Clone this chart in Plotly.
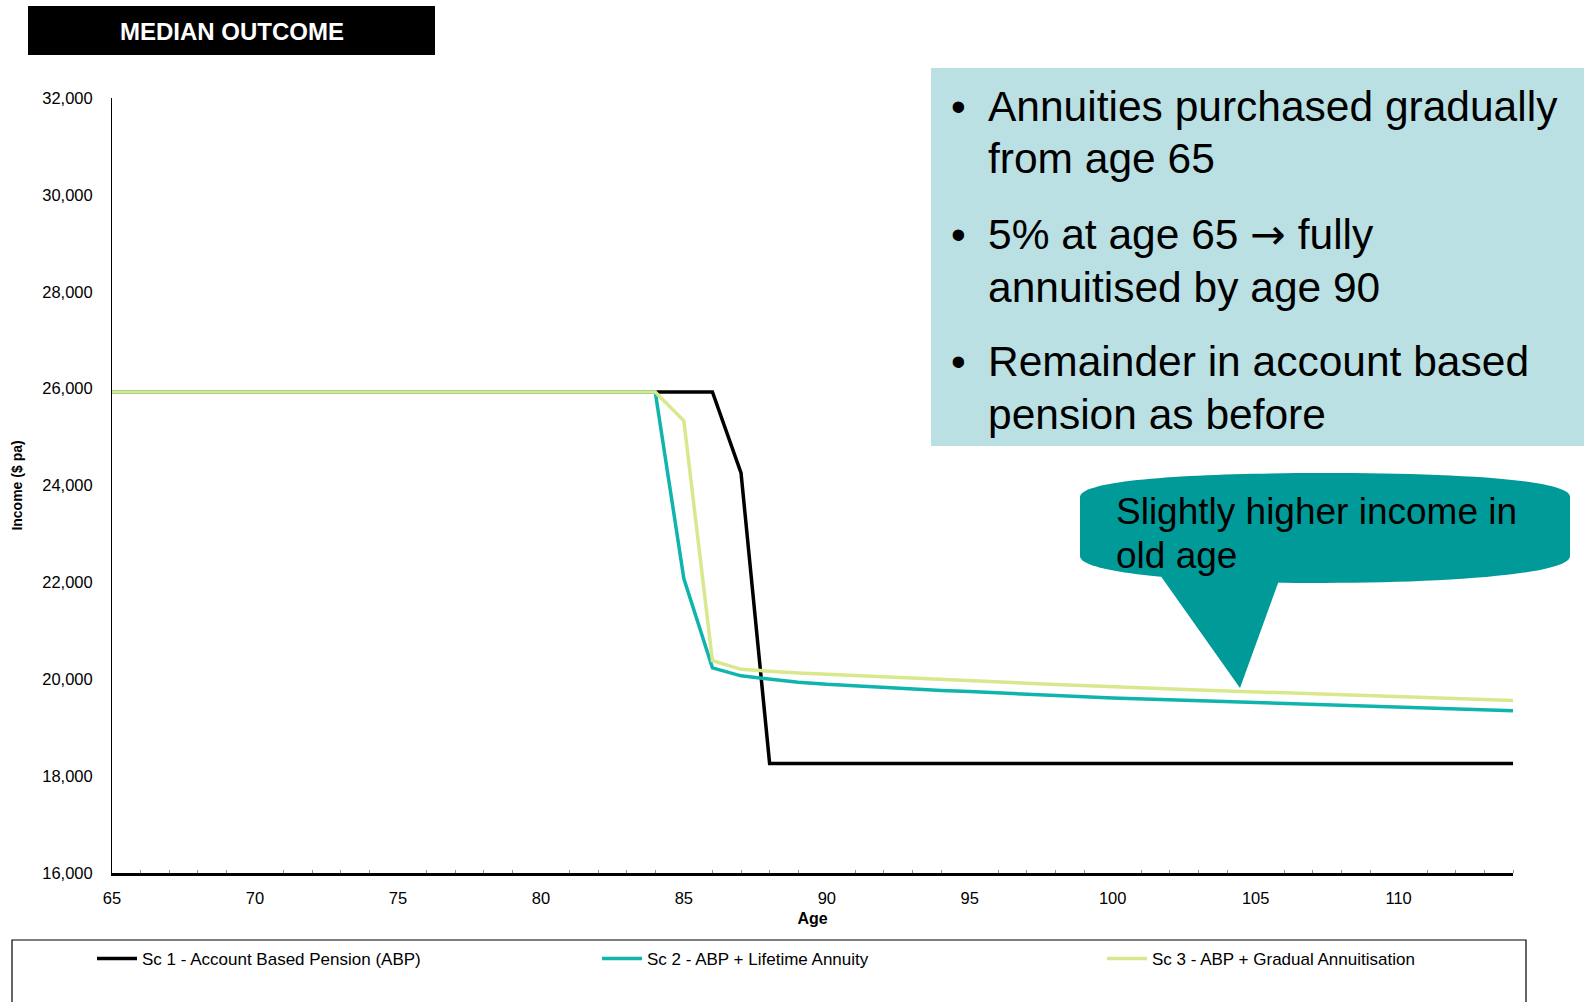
import plotly.graph_objects as go

# Median outcome - income by age for the three scenarios
ages = list(range(65, 115))

sc1_abp = [
    25930, 25930, 25930, 25930, 25930, 25930, 25930, 25930, 25930, 25930,   # 65-74
    25930, 25930, 25930, 25930, 25930, 25930, 25930, 25930, 25930, 25930,   # 75-84
    25930, 25930, 24260, 18260, 18260, 18260, 18260, 18260, 18260, 18260,   # 85-94
    18260, 18260, 18260, 18260, 18260, 18260, 18260, 18260, 18260, 18260,   # 95-104
    18260, 18260, 18260, 18260, 18260, 18260, 18260, 18260, 18260, 18260,   # 105-114
]
sc2_lifetime = [
    25930, 25930, 25930, 25930, 25930, 25930, 25930, 25930, 25930, 25930,
    25930, 25930, 25930, 25930, 25930, 25930, 25930, 25930, 25930, 25930,
    22080, 20235, 20070, 20005, 19940, 19895, 19860, 19830, 19800, 19770,
    19745, 19715, 19690, 19660, 19640, 19615, 19595, 19575, 19555, 19535,
    19515, 19495, 19475, 19455, 19435, 19420, 19400, 19385, 19370, 19350,
]
sc3_gradual = [
    25930, 25930, 25930, 25930, 25930, 25930, 25930, 25930, 25930, 25930,
    25930, 25930, 25930, 25930, 25930, 25930, 25930, 25930, 25930, 25930,
    25335, 20385, 20205, 20160, 20130, 20105, 20080, 20055, 20030, 20010,
    19985, 19955, 19920, 19890, 19865, 19840, 19820, 19800, 19780, 19760,
    19740, 19720, 19700, 19680, 19660, 19640, 19620, 19600, 19580, 19560,
]

series_names = ['Sc 1 - Account Based Pension (ABP)',
                'Sc 2 - ABP + Lifetime Annuity',
                'Sc 3 - ABP + Gradual Annuitisation']
series_colors = ['#000000', '#0fb5ad', '#d8e88c']

ARROW = '<span style="font-family:DejaVu Sans">\u2192</span>'
bullets = [
    ['Annuities purchased gradually', 'from age 65'],
    ['5% at age 65 ' + ARROW + ' fully', 'annuitised by age 90'],
    ['Remainder in account based', 'pension as before'],
]
callout_lines = ['Slightly higher income in', 'old age']

W, H = 1584, 1002
ML, MR, MT, MB = 112, 71, 98, 129
PW, PH = W - ML - MR, H - MT - MB
FONT = 'Liberation Sans, Arial, sans-serif'


# pixel position -> paper coordinates (for the decorations only)
def fx(x):
    return (x - ML) / PW


def fy(y):
    return (H - MB - y) / PH


def pts(*xy):
    return ' '.join('{:.5f},{:.5f}'.format(fx(xy[i]), fy(xy[i + 1])) for i in range(0, len(xy), 2))


fig = go.Figure()
for vals, name, col, lw in zip([sc1_abp, sc2_lifetime, sc3_gradual], series_names, series_colors,
                               [450, 450, 280]):
    fig.add_trace(go.Scatter(x=ages, y=vals, mode='lines', name=name, legendwidth=lw,
                             line=dict(color=col, width=3.5)))

callout_path = ('M ' + pts(1080, 497) + ' C ' + pts(1080, 479, 1200, 473, 1324, 473) +
                ' C ' + pts(1450, 473, 1570, 479, 1570, 497) + ' L ' + pts(1570, 556) +
                ' C ' + pts(1570, 574, 1450, 583, 1324, 583) +
                ' C ' + pts(1200, 583, 1080, 574, 1080, 556) + ' Z')

shapes = [
    # title block
    dict(type='rect', xref='paper', yref='paper', x0=fx(28), x1=fx(435), y0=fy(6), y1=fy(55),
         fillcolor='black', line_width=0, layer='above'),
    # bullet box
    dict(type='rect', xref='paper', yref='paper', x0=fx(931), x1=fx(1590), y0=fy(68), y1=fy(446),
         fillcolor='#bbe0e3', line_width=0, layer='above'),
    # callout body
    dict(type='path', xref='paper', yref='paper', fillcolor='#009a98', line_width=0, layer='above',
         path=callout_path),
    # callout pointer
    dict(type='path', xref='paper', yref='paper', fillcolor='#009a98', line_width=0, layer='above',
         path='M ' + pts(1160, 575) + ' L ' + pts(1281, 575) + ' L ' + pts(1240, 688) + ' Z'),
    # legend frame
    dict(type='rect', xref='paper', yref='paper', x0=fx(12), x1=fx(1526), y0=fy(940), y1=fy(1010),
         fillcolor='rgba(0,0,0,0)', line=dict(color='black', width=1.2), layer='above'),
]

annotations = [
    dict(text='<b>MEDIAN OUTCOME</b>', x=fx(232), y=fy(31), xref='paper', yref='paper',
         xanchor='center', yanchor='middle',
         showarrow=False, font=dict(color='white', size=24, family=FONT)),
]
line_y = [[106, 158.5], [234, 287], [361.5, 414]]
for lines, ys in zip(bullets, line_y):
    annotations.append(dict(text='\u2022', x=fx(949), y=fy(ys[0]), xref='paper', yref='paper',
                            xanchor='left', yanchor='middle', showarrow=False,
                            font=dict(size=42, family=FONT, color='black')))
    for txt, yy in zip(lines, ys):
        annotations.append(dict(text=txt, x=fx(986), y=fy(yy), xref='paper', yref='paper',
                                xanchor='left', yanchor='middle', showarrow=False,
                                font=dict(size=42.5, family=FONT, color='black')))
for txt, yy in zip(callout_lines, [511, 555]):
    annotations.append(dict(text=txt, x=fx(1114), y=fy(yy), xref='paper', yref='paper',
                            xanchor='left', yanchor='middle', showarrow=False,
                            font=dict(size=37, family=FONT, color='black')))

fig.update_layout(
    width=W, height=H,
    margin=dict(l=ML, r=MR, t=MT, b=MB),
    paper_bgcolor='white', plot_bgcolor='white',
    font=dict(family=FONT, size=16.5, color='black'),
    shapes=shapes,
    annotations=annotations,
    showlegend=True,
    legend=dict(orientation='h', x=fx(92), y=fy(941), xanchor='left', yanchor='top',
                entrywidth=450, entrywidthmode='pixels', font=dict(size=17),
                bgcolor='rgba(0,0,0,0)', itemwidth=40),
)
fig.update_xaxes(range=[65, 114], tick0=65, dtick=5, showgrid=False, zeroline=False,
                 showline=True, linecolor='black', linewidth=3, ticks='',
                 ticklabelstandoff=8,
                 minor=dict(dtick=1, ticks='inside', ticklen=3, tickcolor='#909090'),
                 title=dict(text='<b>Age</b>', font=dict(size=16), standoff=8))
fig.update_yaxes(range=[16000, 32000], dtick=2000, tickformat=',', showgrid=False, zeroline=False,
                 showline=True, linecolor='black', linewidth=1, ticks='',
                 ticklabelstandoff=15,
                 title=dict(text='<b>Income ($ pa)</b>', font=dict(size=14), standoff=16))

fig.write_html("out.html", config={'displayModeBar': False},
               post_script="document.body.style.margin='0px';")
